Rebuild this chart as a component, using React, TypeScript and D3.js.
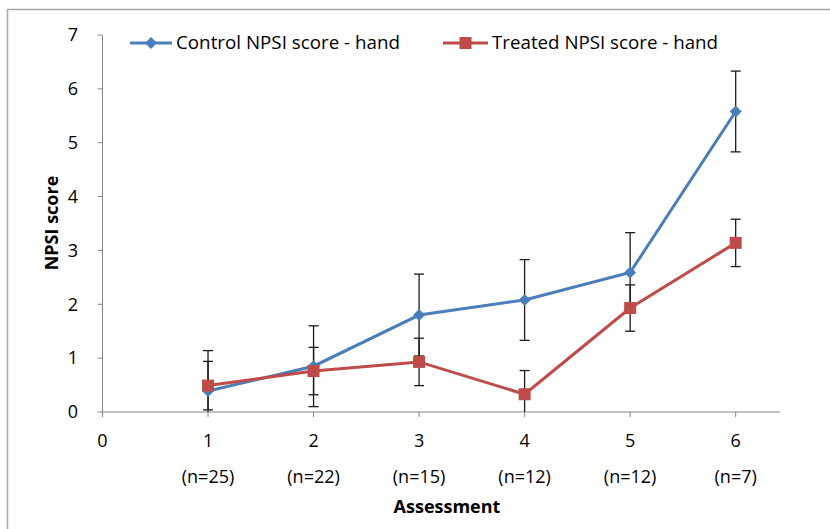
import React from "react";
import * as d3 from "d3";

const assessments = [1, 2, 3, 4, 5, 6];
const xTicks = [0, 1, 2, 3, 4, 5, 6];
const nLabels = ["(n=25)", "(n=22)", "(n=15)", "(n=12)", "(n=12)", "(n=7)"];
const yTicks = [0, 1, 2, 3, 4, 5, 6, 7];
const controlValues = [0.39, 0.85, 1.8, 2.08, 2.59, 5.58];
const controlErr = [0.75, 0.75, 0.76, 0.75, 0.74, 0.75];
const treatedValues = [0.49, 0.76, 0.93, 0.33, 1.93, 3.14];
const treatedErr = [0.45, 0.44, 0.44, 0.44, 0.43, 0.44];
const seriesNames = ["Control NPSI score - hand", "Treated NPSI score - hand"];

const W = 830;
const H = 529;
const FONT = "'Open Sans', sans-serif";

export default function App() {
  const x = d3.scaleLinear().domain([0, 6.42]).range([102.5, 780]);
  const y = d3.scaleLinear().domain([0, 7]).range([412, 35]);
  const line = d3
    .line<number>()
    .x((_, i) => x(assessments[i]))
    .y((d) => y(d));

  const blue = "#4a7ebb";
  const red = "#be4b48";

  const errBars = (vals: number[], errs: number[], key: string) =>
    vals.map((v, i) => {
      const cx = x(assessments[i]);
      const hi = v + errs[i];
      const lo = v - errs[i];
      const yHi = y(Math.min(hi, 7));
      const yLo = y(Math.max(lo, 0));
      return (
        <g key={key + i} stroke="#1a1a1a" strokeWidth={1.3}>
          <line x1={cx} x2={cx} y1={yHi} y2={yLo} />
          {hi <= 7 && <line x1={cx - 5} x2={cx + 5} y1={yHi} y2={yHi} />}
          {lo >= 0 && <line x1={cx - 5} x2={cx + 5} y1={yLo} y2={yLo} />}
        </g>
      );
    });

  const diamond = (cx: number, cy: number, k: string) => (
    <path
      key={k}
      d={`M${cx},${cy - 6}L${cx + 6},${cy}L${cx},${cy + 6}L${cx - 6},${cy}Z`}
      fill={blue}
    />
  );
  const square = (cx: number, cy: number, k: string) => (
    <rect key={k} x={cx - 6} y={cy - 6} width={12} height={12} fill={red} />
  );

  return (
    <svg
      width={W}
      height={H}
      style={{ position: "absolute", left: 0, top: 0, background: "#fff" }}
      fontFamily={FONT}
    >
      <rect x={0} y={0} width={W} height={H} fill="#fff" />
      {/* frame */}
      <line x1={7} x2={W} y1={9.5} y2={9.5} stroke="#a6a6a6" strokeWidth={1.5} />
      <line x1={7.5} x2={7.5} y1={9} y2={H} stroke="#a6a6a6" strokeWidth={1.5} />

      {/* y axis */}
      <line x1={x(0)} x2={x(0)} y1={y(7)} y2={y(0)} stroke="#868686" strokeWidth={1} />
      {yTicks.map((t) => (
        <g key={"yt" + t}>
          <line x1={x(0) - 5} x2={x(0)} y1={y(t)} y2={y(t)} stroke="#868686" />
          <text x={78} y={y(t)} dy="0.35em" textAnchor="end" fontSize={18} fill="#000">
            {t}
          </text>
        </g>
      ))}
      {/* x axis */}
      <line x1={x(0)} x2={780} y1={y(0)} y2={y(0)} stroke="#868686" strokeWidth={1} />
      {xTicks.map((t) => (
        <g key={"xt" + t}>
          <line x1={x(t)} x2={x(t)} y1={y(0)} y2={y(0) + 5} stroke="#868686" />
          <text x={x(t)} y={441} dy="0.35em" textAnchor="middle" fontSize={18} fill="#000">
            {t}
          </text>
        </g>
      ))}
      {nLabels.map((n, i) => (
        <text
          key={"n" + i}
          x={x(assessments[i])}
          y={477}
          dy="0.35em"
          textAnchor="middle"
          fontSize={18}
          fill="#000"
        >
          {n}
        </text>
      ))}
      <text x={447} y={507} dy="0.35em" textAnchor="middle" fontSize={18} fontWeight="bold">
        Assessment
      </text>
      <text
        transform={`translate(52,223) rotate(-90)`}
        dy="0.35em"
        textAnchor="middle"
        fontSize={18}
        fontWeight="bold"
      >
        NPSI score
      </text>

      {/* lines */}
      <path d={line(controlValues) || ""} fill="none" stroke={blue} strokeWidth={3} />
      <path d={line(treatedValues) || ""} fill="none" stroke={red} strokeWidth={3} />
      {errBars(controlValues, controlErr, "ce")}
      {errBars(treatedValues, treatedErr, "te")}
      {controlValues.map((v, i) => diamond(x(assessments[i]), y(v), "cd" + i))}
      {treatedValues.map((v, i) => square(x(assessments[i]), y(v), "ts" + i))}

      {/* legend */}
      <line x1={130} x2={172} y1={43} y2={43} stroke={blue} strokeWidth={3} />
      {diamond(151, 43, "ld")}
      <text x={176} y={43} dy="0.35em" fontSize={18.5} textLength={224} lengthAdjust="spacingAndGlyphs">
        {seriesNames[0]}
      </text>
      <line x1={443} x2={488} y1={43} y2={43} stroke={red} strokeWidth={3} />
      {square(465.5, 43, "ls")}
      <text x={492} y={43} dy="0.35em" fontSize={18.5} textLength={226} lengthAdjust="spacingAndGlyphs">
        {seriesNames[1]}
      </text>
    </svg>
  );
}
